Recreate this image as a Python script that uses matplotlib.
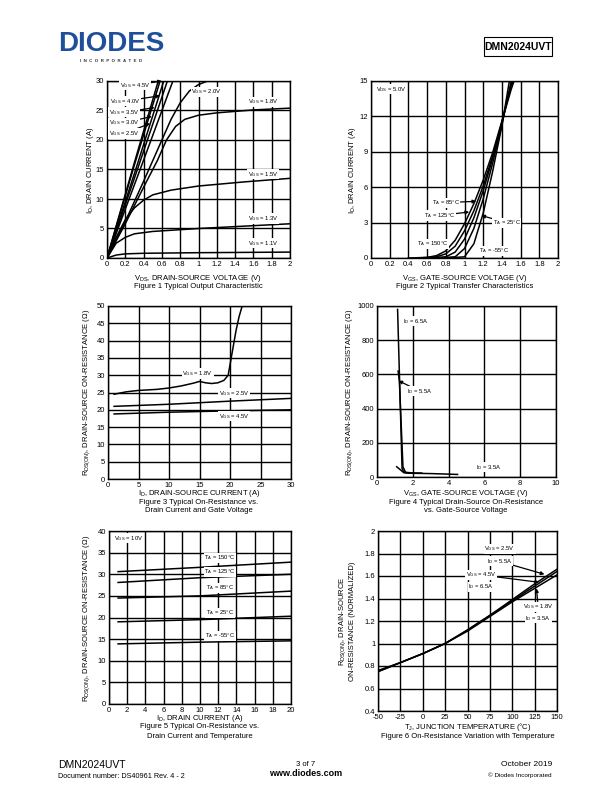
import matplotlib.pyplot as plt
import matplotlib.patches as patches

plt.rcParams['font.family'] = ['Liberation Sans', 'DejaVu Sans']
plt.rcParams['mathtext.default'] = 'regular'
plt.rcParams['axes.unicode_minus'] = False

# Figure 1 - output characteristic
FIG1_LABELS = ['4.5V', '4.0V', '3.5V', '3.0V', '2.5V', '2.0V', '1.8V', '1.5V', '1.3V', '1.1V']
FIG1_X = [
    [0, 0.3, 0.56],
    [0, 0.3, 0.58],
    [0, 0.32, 0.62],
    [0, 0.33, 0.66],
    [0, 0.35, 0.72],
    [0, 0.2, 0.4, 0.6, 0.7, 0.8, 0.9, 1.0, 1.1],
    [0, 0.2, 0.4, 0.55, 0.65, 0.75, 0.85, 1.0, 1.2, 1.6, 2.0],
    [0, 0.1, 0.2, 0.3, 0.4, 0.5, 0.7, 1.0, 1.5, 2.0],
    [0, 0.1, 0.2, 0.3, 0.5, 1.0, 1.5, 2.0],
    [0, 0.1, 0.2, 0.4, 1.0, 2.0],
]
FIG1_Y = [
    [0, 16.2, 30],
    [0, 15.8, 30],
    [0, 15.3, 30],
    [0, 14.9, 30],
    [0, 14.5, 30],
    [0, 6.2, 13.0, 20.0, 23.5, 26.3, 28.3, 29.4, 30.0],
    [0, 5.8, 12.0, 16.5, 20.0, 22.3, 23.5, 24.2, 24.6, 25.1, 25.4],
    [0, 3.5, 6.5, 8.5, 9.8, 10.7, 11.5, 12.2, 12.9, 13.5],
    [0, 2.5, 3.5, 4.1, 4.5, 5.0, 5.4, 5.8],
    [0, 0.5, 0.7, 0.8, 0.9, 1.0],
]

# Figure 2 - transfer characteristic
FIG2_TEMPS = ['150', '125', '85', '25', '-55']
FIG2_X = [
    [0.4, 0.6, 0.7, 0.8, 0.9, 1.0, 1.1, 1.2, 1.3, 1.4, 1.5, 1.53],
    [0.5, 0.7, 0.8, 0.9, 1.0, 1.1, 1.2, 1.3, 1.4, 1.5, 1.52],
    [0.6, 0.8, 0.9, 1.0, 1.1, 1.2, 1.3, 1.4, 1.5, 1.51],
    [0.7, 0.9, 1.0, 1.1, 1.2, 1.3, 1.4, 1.5],
    [0.8, 1.0, 1.1, 1.2, 1.3, 1.4, 1.48],
]
FIG2_Y = [
    [0, 0.05, 0.2, 0.6, 1.5, 2.9, 4.6, 6.6, 8.9, 11.6, 14.3, 15],
    [0, 0.1, 0.35, 1.0, 2.3, 4.0, 6.1, 8.6, 11.5, 14.6, 15],
    [0, 0.1, 0.5, 1.6, 3.4, 5.7, 8.4, 11.5, 14.8, 15],
    [0, 0.1, 0.8, 2.5, 5.0, 8.0, 11.3, 15],
    [0, 0.1, 1.2, 3.8, 7.3, 11.2, 15],
]

# Figure 3 - on-resistance vs drain current
FIG3_LABELS = ['1.8V', '2.5V', '4.5V']
FIG3_X = [
    [1, 3, 5, 8, 10, 12, 14, 15, 16, 17, 18, 19, 19.7, 20, 20.5, 21, 21.5, 22],
    [1, 10, 20, 30],
    [1, 10, 20, 30],
]
FIG3_Y = [
    [24.5, 25.2, 25.6, 25.9, 26.3, 26.9, 27.7, 28.2, 27.8, 27.6, 27.8, 28.5, 30, 33, 38, 43, 47, 50],
    [21.0, 21.6, 22.5, 23.3],
    [18.8, 19.3, 19.7, 20.0],
]

# Figure 4 - on-resistance vs gate voltage
FIG4_LABELS = ['6.5A', '5.5A', '3.5A']
FIG4_X = [
    [1.15, 1.4, 1.5, 2.0, 2.5],
    [1.18, 1.25, 1.45, 1.6, 2.0],
    [1.1, 1.5, 1.8, 3.0, 4.5],
]
FIG4_Y = [
    [980, 50, 28, 24, 23],
    [620, 560, 60, 26, 22],
    [60, 25, 22, 20, 15],
]

# Figure 5 - on-resistance vs drain current and temperature
FIG5_TEMPS = ['150', '125', '85', '25', '-55']
FIG5_X = [1, 10, 20]
FIG5_Y = [
    [30.6, 31.6, 32.8],
    [28.1, 29.2, 30.0],
    [24.5, 25.0, 26.1],
    [19.0, 19.5, 20.3],
    [13.9, 14.3, 14.6],
]

# Figure 6 - normalized on-resistance vs temperature
FIG6_T = [-50, -25, 0, 25, 50, 75, 100, 125, 150]
FIG6_Y = [
    [0.75, 0.83, 0.91, 1.0, 1.12, 1.25, 1.39, 1.53, 1.66],
    [0.75, 0.83, 0.91, 1.0, 1.12, 1.25, 1.38, 1.51, 1.64],
    [0.76, 0.83, 0.91, 1.0, 1.11, 1.24, 1.37, 1.49, 1.61],
]

W, H = 612, 792
fig = plt.figure(figsize=(6.12, 7.92), dpi=100)


def px_axes(left, top, right, bottom):
    return fig.add_axes([left / W, 1 - bottom / H, (right - left) / W, (bottom - top) / H])


def ftext(x, y, s, **kw):
    fig.text(x / W, 1 - y / H, s, **kw)


def style_axes(ax, xlim, ylim, xticks, yticks):
    ax.set_xlim(xlim)
    ax.set_ylim(ylim)
    ax.set_xticks(xticks)
    ax.set_yticks(yticks)
    ax.grid(True, color='black', lw=1.0)
    ax.tick_params(labelsize=5.5, length=2, width=0.6, direction='in', pad=2)
    for s in ax.spines.values():
        s.set_linewidth(1.0)


def label(ax, x, y, s, xy=None, ha='center'):
    box = dict(boxstyle='square,pad=0.1', fc='white', ec='none')
    if xy is None:
        ax.text(x, y, s, fontsize=4.2, ha=ha, va='center', bbox=box, zorder=5)
    else:
        ax.annotate(s, xy=xy, xytext=(x, y), fontsize=4.2, ha=ha, va='center', bbox=box, zorder=5,
                    arrowprops=dict(arrowstyle='-|>', color='black', lw=0.9, mutation_scale=5,
                                    shrinkA=0, shrinkB=0))


line_kw = dict(color='black', lw=1.1)

# ---------- Figure 1
ax1 = px_axes(107, 81, 290, 258)
style_axes(ax1, (0, 2), (0, 30), [0, 0.2, 0.4, 0.6, 0.8, 1, 1.2, 1.4, 1.6, 1.8, 2], range(0, 31, 5))
ax1.set_xticklabels(['0', '0.2', '0.4', '0.6', '0.8', '1', '1.2', '1.4', '1.6', '1.8', '2'])
for x, y in zip(FIG1_X, FIG1_Y):
    ax1.plot(x, y, **line_kw)
label(ax1, 0.31, 29.3, '$V_{GS}$ = ' + FIG1_LABELS[0], xy=(0.6, 30))
label(ax1, 0.2, 26.6, '$V_{GS}$ = ' + FIG1_LABELS[1], xy=(0.58, 27.5))
label(ax1, 0.02, 24.7, '$V_{GS}$ = ' + FIG1_LABELS[2], xy=(0.52, 25.5), ha='left')
label(ax1, 0.02, 22.9, '$V_{GS}$ = ' + FIG1_LABELS[3], xy=(0.49, 24.0), ha='left')
label(ax1, 0.02, 21.1, '$V_{GS}$ = ' + FIG1_LABELS[4], xy=(0.47, 22.8), ha='left')
label(ax1, 1.09, 28.2, '$V_{GS}$ = ' + FIG1_LABELS[5])
label(ax1, 1.71, 26.5, '$V_{GS}$ = ' + FIG1_LABELS[6])
label(ax1, 1.71, 14.2, '$V_{GS}$ = ' + FIG1_LABELS[7])
label(ax1, 1.71, 6.7, '$V_{GS}$ = ' + FIG1_LABELS[8])
label(ax1, 1.71, 2.5, '$V_{GS}$ = ' + FIG1_LABELS[9])
ftext(90, 170, '$I_D$, DRAIN CURRENT (A)', fontsize=5.5, rotation=90, ha='center', va='center')
ftext(198, 278, '$V_{DS}$, DRAIN-SOURCE VOLTAGE (V)', fontsize=5.5, ha='center', va='center')
ftext(198, 287, 'Figure 1 Typical Output Characteristic', fontsize=5.5, ha='center', va='center')

# ---------- Figure 2
ax2 = px_axes(371, 81, 558, 258)
style_axes(ax2, (0, 2), (0, 15), [0, 0.2, 0.4, 0.6, 0.8, 1, 1.2, 1.4, 1.6, 1.8, 2], range(0, 16, 3))
ax2.set_xticklabels(['0', '0.2', '0.4', '0.6', '0.8', '1', '1.2', '1.4', '1.6', '1.8', '2'])
for x, y in zip(FIG2_X, FIG2_Y):
    ax2.plot(x, y, **line_kw)
label(ax2, 0.05, 14.3, '$V_{DS}$ = 5.0V', ha='left')
label(ax2, 0.80, 4.7, '$T_A$ = ' + FIG2_TEMPS[2] + '°C', xy=(1.125, 4.8))
label(ax2, 0.73, 3.6, '$T_A$ = ' + FIG2_TEMPS[1] + '°C', xy=(1.05, 3.9))
label(ax2, 1.45, 3.0, '$T_A$ = ' + FIG2_TEMPS[3] + '°C', xy=(1.18, 3.6))
label(ax2, 0.66, 1.2, '$T_A$ = ' + FIG2_TEMPS[0] + '°C')
label(ax2, 1.32, 0.6, '$T_A$ = ' + FIG2_TEMPS[4] + '°C')
ftext(352, 170, '$I_D$, DRAIN CURRENT (A)', fontsize=5.5, rotation=90, ha='center', va='center')
ftext(465, 278, '$V_{GS}$, GATE-SOURCE VOLTAGE (V)', fontsize=5.5, ha='center', va='center')
ftext(465, 287, 'Figure 2 Typical Transfer Characteristics', fontsize=5.5, ha='center', va='center')

# ---------- Figure 3
ax3 = px_axes(108, 306, 291, 479)
style_axes(ax3, (0, 30), (0, 50), range(0, 31, 5), range(0, 51, 5))
for x, y in zip(FIG3_X, FIG3_Y):
    ax3.plot(x, y, **line_kw)
label(ax3, 14.7, 30.5, '$V_{GS}$ = ' + FIG3_LABELS[0])
label(ax3, 20.7, 24.8, '$V_{GS}$ = ' + FIG3_LABELS[1])
label(ax3, 20.7, 18.1, '$V_{GS}$ = ' + FIG3_LABELS[2])
ftext(87, 392, '$R_{DS(ON)}$, DRAIN-SOURCE ON-RESISTANCE (Ω)', fontsize=5.5, rotation=90, ha='center', va='center')
ftext(199, 493, '$I_D$, DRAIN-SOURCE CURRENT (A)', fontsize=5.5, ha='center', va='center')
ftext(199, 502, 'Figure 3 Typical On-Resistance vs.', fontsize=5.5, ha='center', va='center')
ftext(199, 511, 'Drain Current and Gate Voltage', fontsize=5.5, ha='center', va='center')

# ---------- Figure 4
ax4 = px_axes(377, 306, 556, 477)
style_axes(ax4, (0, 10), (0, 1000), range(0, 11, 2), range(0, 1001, 200))
for x, y in zip(FIG4_X, FIG4_Y):
    ax4.plot(x, y, **line_kw)
label(ax4, 2.14, 910, '$I_D$ = ' + FIG4_LABELS[0])
label(ax4, 2.41, 501, '$I_D$ = ' + FIG4_LABELS[1], xy=(1.2, 563))
label(ax4, 6.23, 58, '$I_D$ = ' + FIG4_LABELS[2])
ftext(350, 392, '$R_{DS(ON)}$, DRAIN-SOURCE ON-RESISTANCE (Ω)', fontsize=5.5, rotation=90, ha='center', va='center')
ftext(466, 493, '$V_{GS}$, GATE-SOURCE VOLTAGE (V)', fontsize=5.5, ha='center', va='center')
ftext(466, 502, 'Figure 4 Typical Drain-Source On-Resistance', fontsize=5.5, ha='center', va='center')
ftext(466, 511, 'vs. Gate-Source Voltage', fontsize=5.5, ha='center', va='center')

# ---------- Figure 5
ax5 = px_axes(109, 531, 291, 704)
style_axes(ax5, (0, 20), (0, 40), range(0, 21, 2), range(0, 41, 5))
for y in FIG5_Y:
    ax5.plot(FIG5_X, y, **line_kw)
label(ax5, 0.6, 38.3, '$V_{GS}$ = 10V', ha='left')
for t, ly in zip(FIG5_TEMPS, [33.8, 30.6, 26.9, 21.1, 15.8]):
    label(ax5, 12.2, ly, '$T_A$ = ' + t + '°C')
ftext(87, 618, '$R_{DS(ON)}$, DRAIN-SOURCE ON-RESISTANCE (Ω)', fontsize=5.5, rotation=90, ha='center', va='center')
ftext(200, 718, '$I_D$, DRAIN CURRENT (A)', fontsize=5.5, ha='center', va='center')
ftext(200, 727, 'Figure 5 Typical On-Resistance vs.', fontsize=5.5, ha='center', va='center')
ftext(200, 736, 'Drain Current and Temperature', fontsize=5.5, ha='center', va='center')

# ---------- Figure 6
ax6 = px_axes(378, 531, 557, 711)
style_axes(ax6, (-50, 150), (0.4, 2), range(-50, 151, 25), [0.4, 0.6, 0.8, 1, 1.2, 1.4, 1.6, 1.8, 2])
ax6.set_yticklabels(['0.4', '0.6', '0.8', '1', '1.2', '1.4', '1.6', '1.8', '2'])
for y in FIG6_Y:
    ax6.plot(FIG6_T, y, **line_kw)
label(ax6, 86, 1.84, '$V_{GS}$ = 2.5V')
label(ax6, 86, 1.73, '$I_D$ = 5.5A', xy=(136, 1.615))
label(ax6, 65, 1.61, '$V_{GS}$ = 4.5V', xy=(130, 1.544))
label(ax6, 65, 1.505, '$I_D$ = 6.5A')
label(ax6, 129, 1.327, '$V_{GS}$ = 1.8V', xy=(127, 1.49))
label(ax6, 129, 1.224, '$I_D$ = 3.5A')
ftext(343, 621, '$R_{DS(ON)}$, DRAIN-SOURCE', fontsize=5.5, rotation=90, ha='center', va='center')
ftext(352, 621, 'ON-RESISTANCE (NORMALIZED)', fontsize=5.5, rotation=90, ha='center', va='center')
ftext(468, 727, '$T_J$, JUNCTION TEMPERATURE (°C)', fontsize=5.5, ha='center', va='center')
ftext(468, 736, 'Figure 6 On-Resistance Variation with Temperature', fontsize=5.5, ha='center', va='center')

# ---------- page header / footer
ftext(111, 44, 'DIODES', fontsize=20, fontweight='bold', color='#1f4f9a', ha='center', va='center')
ftext(111, 61, 'I  N  C  O  R  P  O  R  A  T  E  D', fontsize=3.2, fontweight='bold', color='#333333',
      ha='center', va='center')
fig.add_artist(patches.Rectangle((484 / W, 1 - 56 / H), 68 / W, 19 / H, transform=fig.transFigure,
                                 fill=False, ec='black', lw=0.8))
ftext(518, 47, 'DMN2024UVT', fontsize=7.5, fontweight='bold', ha='center', va='center')

ftext(58, 765, 'DMN2024UVT', fontsize=7.5, ha='left', va='center')
ftext(58, 776, 'Document number: DS40961 Rev. 4 - 2', fontsize=5.2, ha='left', va='center')
ftext(306, 765, '3 of 7', fontsize=5.5, ha='center', va='center')
ftext(306, 774, 'www.diodes.com', fontsize=6.5, fontweight='bold', ha='center', va='center')
ftext(552, 765, 'October 2019', fontsize=6, ha='right', va='center')
ftext(552, 775, '© Diodes Incorporated', fontsize=4.6, ha='right', va='center')

fig.savefig('out.png', dpi=100)
